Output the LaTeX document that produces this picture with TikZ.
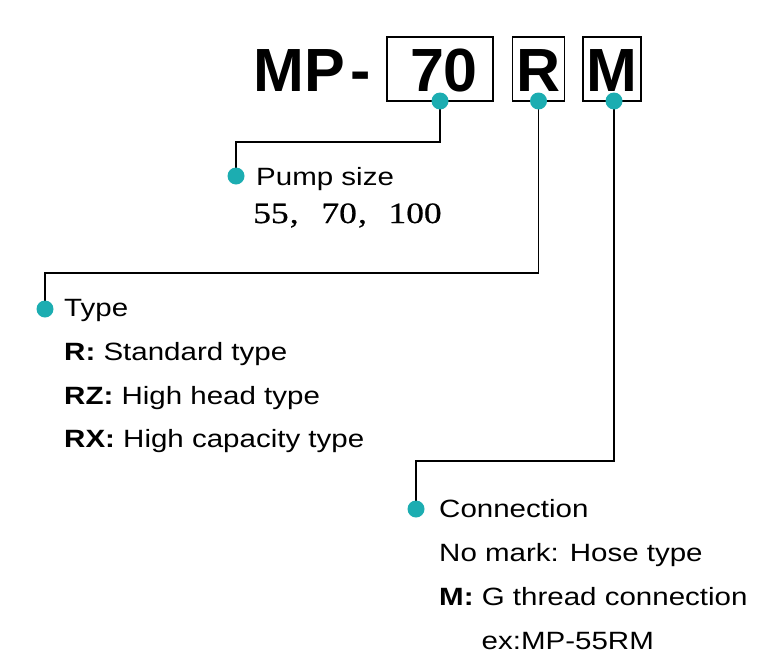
\documentclass[tikz,border=0pt]{standalone}
\usepackage{fontspec}
\setmainfont{Liberation Sans}
\newfontfamily\serifnum[FakeBold=0.6]{Liberation Serif}
\definecolor{teal1}{HTML}{1CADB1}
\begin{document}
\begin{tikzpicture}[x=1pt,y=-1pt,
  dot/.style={circle,fill=teal1,inner sep=0pt,minimum size=17pt},
  codebox/.style={draw=black,line width=1.3pt,inner sep=0pt},
  title/.style={inner sep=0pt,anchor=base west,font=\fontsize{61}{61}\selectfont\bfseries},
  body/.style={inner sep=0pt,anchor=base west,font=\fontsize{25}{25}\selectfont,xscale=1.18},
  conn/.style={line width=1.8pt,black}]
\useasboundingbox (0,0) rectangle (778,656);
% title
\node[title] (mp) at (253,91) {MP};
\node[title] (dash) at (350,91) {-};
\node[codebox,minimum width=106pt,minimum height=64pt] (b70) at (440,69) {};
\node[codebox,minimum width=52pt,minimum height=64pt] (bR) at (538.5,69) {};
\node[codebox,minimum width=58pt,minimum height=64pt] (bM) at (612,69) {};
\node[title,anchor=base] (t70) at (444,91) {70};
\node[title,anchor=base] (tR) at (538.5,91) {R};
\node[title,anchor=base] (tM) at (612,91) {M};
% dot positions
\coordinate (p70) at (440,101);
\coordinate (pR) at (538.5,101);
\coordinate (pM) at (614,101);
\coordinate (pPump) at (236,176);
\coordinate (pType) at (45,309);
\coordinate (pConn) at (416,509);
\coordinate (k1) at (440,142);
\coordinate (k2) at (538.5,273);
\coordinate (k3) at (614,461);
% connectors
\draw[conn] (p70) -- (k1) -| (pPump);
\draw[conn] (pR) -- (k2) -| (pType);
\draw[conn] (pM) -- (k3) -| (pConn);
% dots
\node[dot] (d70) at (p70) {};
\node[dot] (dR) at (pR) {};
\node[dot] (dM) at (pM) {};
\node[dot] (dPump) at (pPump) {};
\node[dot] (dType) at (pType) {};
\node[dot] (dConn) at (pConn) {};
% pump size
\node[body] (pump) at (256,185.5) {Pump size};
\node[inner sep=0pt,anchor=base west,font=\fontsize{29.5}{29.5}\selectfont\serifnum,xscale=1.2] (sizes) at (253,223) {55\hspace{1pt},\hspace{19pt}70\hspace{1pt},\hspace{18pt}100};
% type
\node[body] (type) at (64,316) {Type};
\node[body] (r) at (64,360.5) {\textbf{R:} Standard type};
\node[body] (rz) at (64,404) {\textbf{RZ:} High head type};
\node[body] (rx) at (64,447.5) {\textbf{RX:} High capacity type};
% connection
\node[body] (conn) at (439,517.5) {Connection};
\node[body] (nomark) at (439,561) {No mark: Hose type};
\node[body] (mg) at (439,605) {\textbf{M:} G thread connection};
\node[body] (ex) at (481.5,649) {ex:MP-55RM};
\end{tikzpicture}
\end{document}
